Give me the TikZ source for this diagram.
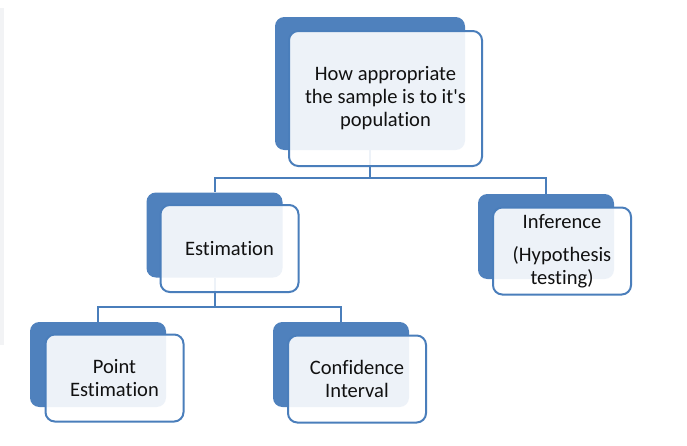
\documentclass[tikz,border=0pt]{standalone}
\usepackage{fontspec}
\setmainfont{Carlito}[Ligatures={NoCommon}]
\usepackage{tikz}
\definecolor{boxblue}{HTML}{4F81BD}
\definecolor{lineblue}{HTML}{4A7EBB}
\definecolor{stripgray}{HTML}{F2F3F5}
\definecolor{textgray}{HTML}{111111}
\tikzset{
  backbox/.style={fill=boxblue, rounded corners=7pt, inner sep=0pt,
    minimum width=102pt, minimum height=63.75pt},
  frontbox/.style={draw=lineblue, line width=1.5pt, fill=white, fill opacity=0.9,
    text opacity=1, rounded corners=7pt, inner sep=0pt, align=center,
    text=textgray, font=\fontsize{15.4}{17.3}\selectfont,
    minimum width=103.5pt, minimum height=65.25pt},
  conn/.style={draw=lineblue, line width=1.5pt},
}

\begin{document}
\begin{tikzpicture}[x=0.75pt,y=-0.75pt]
    \useasboundingbox (0,0) rectangle (687,446);
    \fill[white] (0,0) rectangle (687,446);
    \fill[stripgray] (0,8) rectangle (4,345);
    % --- BACK BOXES ---
    \node[backbox, minimum width=142.5pt, minimum height=99.75pt] (topB) at (370,83.5) {};
    \node[backbox] (estB) at (214.5,235) {};
    \node[backbox] (infB) at (546,236.5) {};
    \node[backbox] (ptB) at (98,364.5) {};
    \node[backbox] (ciB) at (341,364.5) {};
    % --- CONNECTORS ---
    \draw[conn] (topB.south) -- ++(0,28) coordinate (j1);
    \draw[conn] (j1) -| (estB.north);
    \draw[conn] (j1) -| (infB.north);
    \draw[conn] (estB.south) -- ++(0,29) coordinate (j2);
    \draw[conn] (j2) -| (ptB.north);
    \draw[conn] (j2) -| (ciB.north);
    % --- FRONT BOXES ---
    \node[frontbox, minimum width=144.75pt, minimum height=101.25pt] (top) at (385.5,98.5)
        {How appropriate\\the sample is to it\textquotesingle s\\population};
    \node[frontbox] (est) at (229.5,248.5) {Estimation};
    \node[frontbox] (inf) at (562,251) {Inference\\[7.5pt](Hypothesis\\testing)};
    \node[frontbox] (pt) at (114.5,378) {Point\\Estimation};
    \node[frontbox] (ci) at (357,379) {Confidence\\Interval};
\end{tikzpicture}
\end{document}
